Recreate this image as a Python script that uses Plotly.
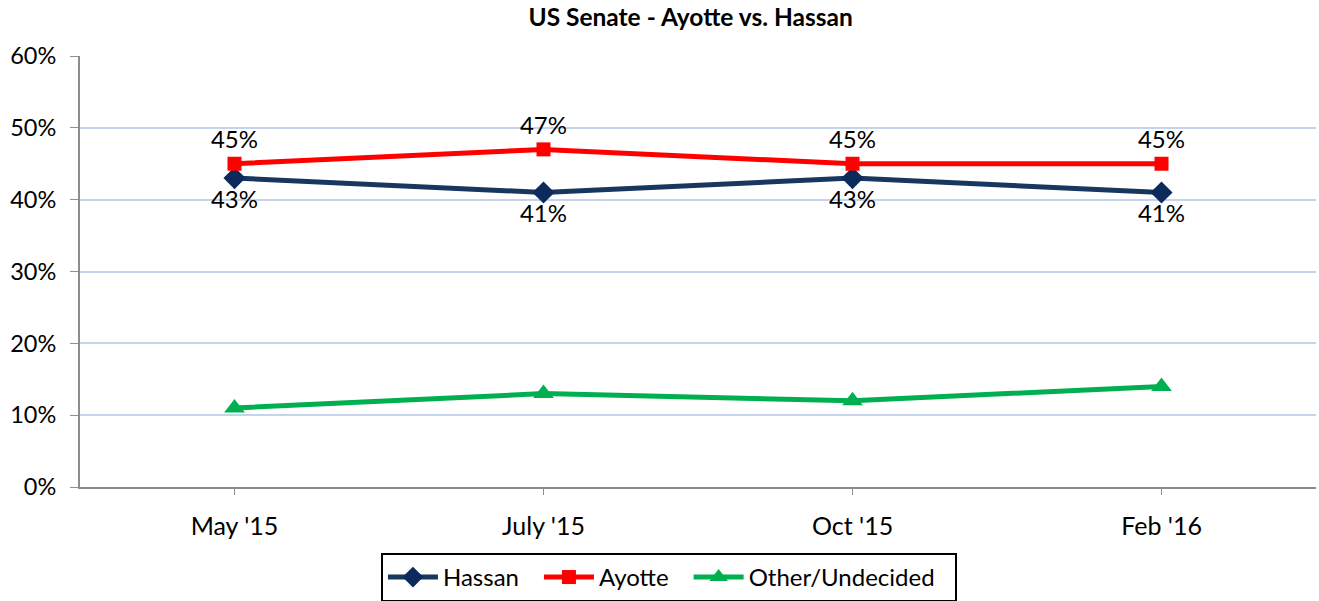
import plotly.graph_objects as go

categories = ["May '15", "July '15", "Oct '15", "Feb '16"]
hassan = [43, 41, 43, 41]
ayotte = [45, 47, 45, 45]
other = [11, 13, 12, 14]
y_ticks = [0, 10, 20, 30, 40, 50, 60]
y_tick_labels = [f"{v}%" for v in y_ticks]

FONT = "Lato, Carlito, 'Open Sans', sans-serif"
x = list(range(len(categories)))
PAD = "\u2002\u2009"

fig = go.Figure()
fig.add_trace(go.Scatter(
    x=x, y=hassan, name="Hassan" + PAD, mode="lines+markers+text",
    line=dict(color="#17375e", width=5),
    marker=dict(symbol="diamond", size=17, color="#0c2a5c"),
    text=[f"{v}%" for v in hassan], textposition="bottom center",
    textfont=dict(size=24, color="#000"),
))
fig.add_trace(go.Scatter(
    x=x, y=ayotte, name="Ayotte" + PAD, mode="lines+markers+text",
    line=dict(color="#ff0000", width=5),
    marker=dict(symbol="square", size=14, color="#ff0000"),
    text=[f"{v}%" for v in ayotte], textposition="top center",
    textfont=dict(size=24, color="#000"),
))
fig.add_trace(go.Scatter(
    x=x, y=other, name="Other/Undecided" + PAD, mode="lines+markers",
    line=dict(color="#00b050", width=5),
    marker=dict(symbol="triangle-up", size=18, color="#00b050"),
))

fig.update_layout(
    width=1319, height=601,
    margin=dict(l=80, r=3, t=56, b=114, autoexpand=False),
    paper_bgcolor="white", plot_bgcolor="white",
    font=dict(family=FONT, size=24, color="#000"),
    title=dict(text="<b>US Senate - Ayotte vs. Hassan</b>", x=0.494, xref="paper",
               xanchor="center", y=0.971, yanchor="middle",
               font=dict(size=24.5, family=FONT)),
    xaxis=dict(
        tickmode="array", tickvals=x, ticktext=categories,
        range=[-0.5, 3.5], showgrid=False, zeroline=False,
        showline=True, linecolor="#8c8c8c", linewidth=2,
        ticks="outside", tickson="boundaries", ticklen=6, tickcolor="#8c8c8c",
        tickfont=dict(size=25), ticklabelstandoff=10, automargin=False,
    ),
    yaxis=dict(
        tickmode="array", tickvals=y_ticks, ticktext=y_tick_labels,
        range=[0, 60], showgrid=True, gridcolor="#c5d4ec", gridwidth=1.5,
        zeroline=False, showline=True, linecolor="#8c8c8c", linewidth=2,
        ticks="outside", ticklen=8, tickcolor="#8c8c8c",
        tickfont=dict(size=23.5), automargin=False, ticklabelstandoff=9,
    ),
    showlegend=True,
    legend=dict(orientation="h", x=0.4765, xanchor="center", y=-0.153, yanchor="top",
                bordercolor="#000", borderwidth=2, font=dict(size=24),
                itemwidth=50, tracegroupgap=0),
)

fig.write_html("out.html", config={"displayModeBar": False},
               post_script="document.body.style.margin='0';")
